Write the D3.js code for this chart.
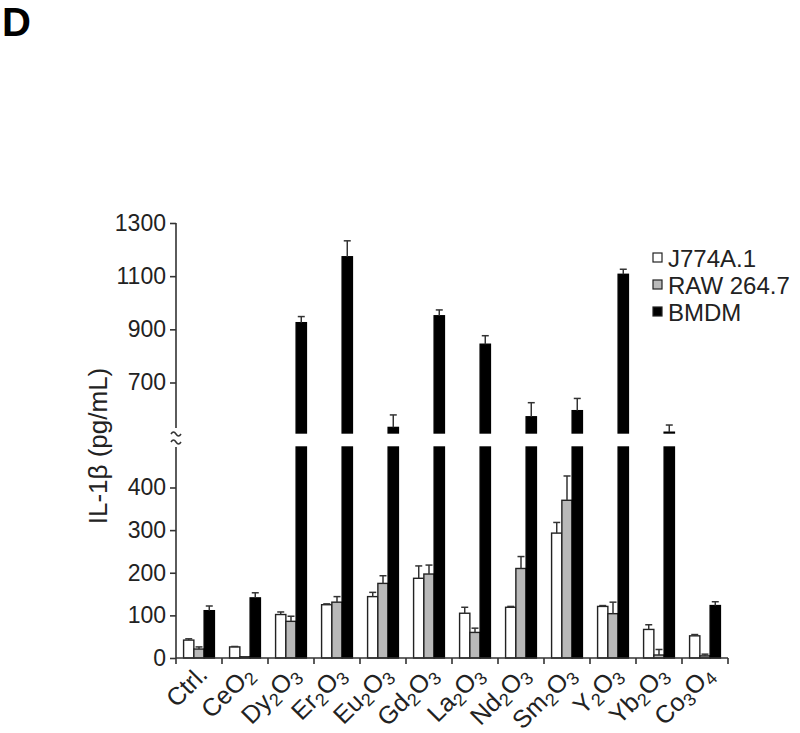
<!DOCTYPE html>
<html>
<head>
<meta charset="utf-8">
<script src="https://cdn.jsdelivr.net/npm/d3@7"></script>
<style>
  body { margin: 0; background: #fff; }
  svg { font-family: "Liberation Sans", Arial, sans-serif; }
</style>
</head>
<body>
<svg id="chart" width="800" height="733"></svg>
<script>
// IL-1b secretion, broken y axis (0-495 below, 510-1300 above)
const categories = [
  ['Ctrl.'], ['Ce', 'O', '2'], ['Dy', '2', 'O', '3'], ['Er', '2', 'O', '3'],
  ['Eu', '2', 'O', '3'], ['Gd', '2', 'O', '3'], ['La', '2', 'O', '3'], ['Nd', '2', 'O', '3'],
  ['Sm', '2', 'O', '3'], ['Y', '2', 'O', '3'], ['Yb', '2', 'O', '3'], ['Co', '3', 'O', '4']
];
const seriesNames = ['J774A.1', 'RAW 264.7', 'BMDM'];
const seriesColors = ['#ffffff', '#b9b9b9', '#000000'];

const j774 =     [42, 26, 102, 125, 144, 187, 105, 119, 293, 121, 67, 52];
const j774Err =  [3, 1, 6, 2, 10, 29, 14, 2, 25, 2, 11, 3];
const raw =      [21, 3, 86, 131, 175, 197, 60, 210, 370, 104, 7, 5];
const rawErr =   [5, 0, 12, 13, 18, 21, 10, 28, 57, 27, 13, 4];
const bmdm =     [111, 141, 925, 1173, 531, 951, 844, 571, 594, 1107, 513, 123];
const bmdmErr =  [11, 12, 23, 60, 47, 22, 32, 53, 46, 19, 27, 9];

const lowTicks = [0, 100, 200, 300, 400];
const highTicks = [700, 900, 1100, 1300];

const svg = d3.select('#chart');

const x = d3.scaleBand()
  .domain(d3.range(categories.length))
  .range([176, 728])
  .paddingInner(0.33)
  .paddingOuter(0.165);
const xs = d3.scaleBand().domain(d3.range(3)).range([0, x.bandwidth()]);

const yLow = d3.scaleLinear().domain([0, 495]).range([658, 447]);
const yHigh = d3.scaleLinear().domain([510, 1300]).range([433, 223]);

// title letter
svg.append('text').attr('x', 2).attr('y', 36)
  .attr('font-size', 40).attr('font-weight', 'bold').text('D');

// bars
const all = [j774, raw, bmdm];
const errs = [j774Err, rawErr, bmdmErr];
const g = svg.append('g');

all.forEach((vals, s) => {
  vals.forEach((v, i) => {
    const bx = x(i) + xs(s);
    const bw = xs.bandwidth();
    const fill = seriesColors[s];
    const stroke = s === 2 ? '#000' : '#222';
    if (v <= 495) {
      g.append('rect').attr('x', bx).attr('y', yLow(v))
        .attr('width', bw).attr('height', yLow(0) - yLow(v))
        .attr('fill', fill).attr('stroke', stroke).attr('stroke-width', 1.4);
    } else {
      g.append('rect').attr('x', bx).attr('y', yLow(495))
        .attr('width', bw).attr('height', yLow(0) - yLow(495))
        .attr('fill', fill).attr('stroke', stroke).attr('stroke-width', 1.4);
      g.append('rect').attr('x', bx).attr('y', yHigh(v))
        .attr('width', bw).attr('height', yHigh(510) - yHigh(v))
        .attr('fill', fill).attr('stroke', stroke).attr('stroke-width', 1.4);
    }
    // error whisker, upward only
    const top = v + errs[s][i];
    const yv = v <= 495 ? yLow(v) : yHigh(v);
    const ye = v <= 495 ? yLow(top) : yHigh(top);
    const cx = bx + bw / 2;
    if (yv - ye > 0.5) {
      g.append('line').attr('x1', cx).attr('x2', cx).attr('y1', yv).attr('y2', ye)
        .attr('stroke', '#333').attr('stroke-width', 1.5);
    }
    g.append('line').attr('x1', cx - 3.5).attr('x2', cx + 3.5).attr('y1', ye).attr('y2', ye)
      .attr('stroke', '#333').attr('stroke-width', 1.5);
  });
});

// y axis
const axisCol = '#333';
const fmt = d3.format('d');
const yAxisLow = svg.append('g').attr('transform', 'translate(176,0)')
  .call(d3.axisLeft(yLow).tickValues(lowTicks).tickFormat(fmt).tickSize(6).tickPadding(4));
yAxisLow.select('.domain').attr('d', `M0,${yLow(0)}V${yLow(495)}`);
const yAxisHigh = svg.append('g').attr('transform', 'translate(176,0)')
  .call(d3.axisLeft(yHigh).tickValues(highTicks).tickFormat(fmt).tickSize(6).tickPadding(4));
yAxisHigh.select('.domain').attr('d', `M0,${yHigh(1300)}V428`);
svg.selectAll('.tick text').attr('font-size', 23).attr('fill', '#222')
  .style('font-family', '"Liberation Sans", Arial, sans-serif');
svg.selectAll('.domain, .tick line').attr('stroke', axisCol).attr('stroke-width', 1.6);

// break marks
[433, 441].forEach(yy => {
  svg.append('path')
    .attr('d', `M171,${yy + 1} q2.5,-4 5,0 t5,0`)
    .attr('fill', 'none').attr('stroke', axisCol).attr('stroke-width', 1.5);
});

// x axis with boundary ticks
const bounds = d3.range(categories.length + 1).map(i => 176 + i * x.step());
svg.append('line').attr('x1', 176).attr('x2', 728).attr('y1', 658).attr('y2', 658)
  .attr('stroke', axisCol).attr('stroke-width', 1.6);
svg.selectAll('.xtick').data(bounds).join('line').attr('class', 'xtick')
  .attr('x1', d => d).attr('x2', d => d).attr('y1', 658).attr('y2', 664)
  .attr('stroke', axisCol).attr('stroke-width', 1.6);

const xl = svg.selectAll('.xlab').data(categories).join('text').attr('class', 'xlab')
  .attr('text-anchor', 'end').attr('font-size', 25).attr('fill', '#222')
  .attr('transform', (d, i) => `translate(${x(i) + x.bandwidth() / 2 + 10},676) rotate(-45)`);
xl.each(function(parts) {
  const t = d3.select(this);
  let sub = false;
  parts.forEach(p => {
    const isNum = /^\d$/.test(p);
    const ts = t.append('tspan').text(p);
    if (isNum && !sub) { ts.attr('font-size', 18).attr('dy', 5); sub = true; }
    else if (!isNum && sub) { ts.attr('dy', -5); sub = false; }
  });
});

// y label
svg.append('text')
  .attr('transform', 'translate(107,446) rotate(-90)')
  .attr('text-anchor', 'middle').attr('font-size', 26).attr('fill', '#222')
  .text('IL-1β (pg/mL)');

// legend
const lg = svg.append('g').attr('transform', 'translate(653,258)');
seriesNames.forEach((name, s) => {
  const row = lg.append('g').attr('transform', `translate(0,${s * 27})`);
  row.append('rect').attr('x', 0).attr('y', -5).attr('width', 9).attr('height', 9)
    .attr('fill', seriesColors[s]).attr('stroke', '#222').attr('stroke-width', 1.2);
  row.append('text').attr('x', 15).attr('y', 9).attr('font-size', 24).attr('fill', '#222').text(name);
});
</script>
</body>
</html>
